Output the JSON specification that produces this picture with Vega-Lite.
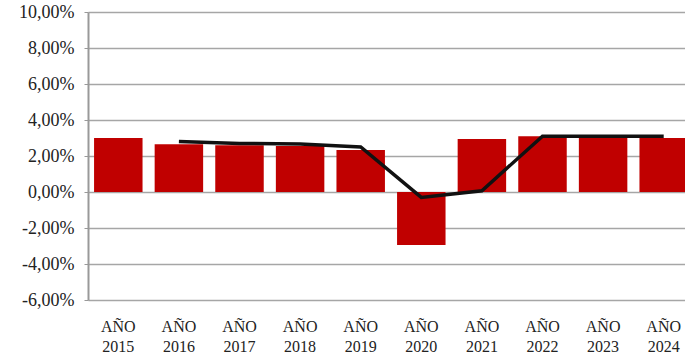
{
  "$schema": "https://vega.github.io/schema/vega-lite/v6.json",
  "autosize": "none",
  "width": 606,
  "height": 288,
  "padding": {"left": 88, "top": 12, "right": 0, "bottom": 56},
  "background": "white",
  "data": {"values": [
    {"year": "2015", "bar": 0.030, "line": null},
    {"year": "2016", "bar": 0.0265, "line": 0.028},
    {"year": "2017", "bar": 0.026, "line": 0.027},
    {"year": "2018", "bar": 0.0255, "line": 0.0267},
    {"year": "2019", "bar": 0.0233, "line": 0.025},
    {"year": "2020", "bar": -0.0294, "line": -0.003},
    {"year": "2021", "bar": 0.0294, "line": 0.0007},
    {"year": "2022", "bar": 0.031, "line": 0.031},
    {"year": "2023", "bar": 0.030, "line": 0.031},
    {"year": "2024", "bar": 0.030, "line": 0.031}
  ]},
  "encoding": {
    "x": {
      "field": "year", "type": "nominal", "title": null,
      "scale": {"paddingInner": 0.2, "paddingOuter": 0.1},
      "axis": {
        "domain": false, "ticks": false, "labelAngle": 0,
        "labelExpr": "['AÑO', datum.value]",
        "labelFont": "Liberation Serif", "labelFontSize": 16, "labelColor": "#222",
        "labelPadding": 18, "labelLineHeight": 20, "labelBaseline": "top",
        "labelOverlap": false
      }
    }
  },
  "layer": [
    {
      "mark": {"type": "bar", "color": "#C00000"},
      "encoding": {
        "y": {
          "field": "bar", "type": "quantitative", "title": null,
          "scale": {"domain": [-0.06, 0.10], "nice": false},
          "axis": {
            "values": [-0.06, -0.04, -0.02, 0, 0.02, 0.04, 0.06, 0.08, 0.10],
            "tickCount": 12,
            "labelExpr": "replace(replace(format(datum.value, '.2%'), '.', ','), '\u2212', '-')",
            "labelFont": "Liberation Serif", "labelFontSize": 18, "labelColor": "#222",
            "labelPadding": 10, "labelOverlap": false, "labelBound": false,
            "ticks": true, "tickSize": 4, "tickColor": "#999",
            "domainColor": "#999", "domainWidth": 2,
            "grid": true, "gridColor": "#a6a6a6", "gridWidth": 1.5
          }
        }
      }
    },
    {
      "transform": [{"filter": "datum.line != null"}],
      "mark": {"type": "line", "color": "#111", "strokeWidth": 3.5},
      "encoding": {
        "y": {"field": "line", "type": "quantitative"}
      }
    }
  ],
  "config": {"view": {"stroke": null}}
}
